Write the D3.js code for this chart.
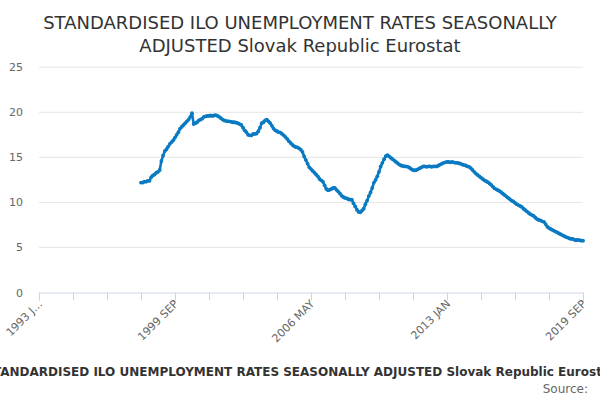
<!DOCTYPE html>
<html><head><meta charset="utf-8">
<script src="https://cdn.jsdelivr.net/npm/d3@7"></script>
<style>body{margin:0;background:#fff}svg{display:block;font-family:"DejaVu Sans",sans-serif}</style>
</head><body><svg id="c" width="600" height="400"></svg>
<script>
// categories: monthly from 1993 JAN to 2019 SEP
const years = d3.range(1993, 2020);
const monthNames = ["JAN","FEB","MAR","APR","MAY","JUN","JUL","AUG","SEP","OCT","NOV","DEC"];
const categories = [];
years.forEach(y => monthNames.forEach((m, i) => { if (!(y === 2019 && i > 8)) categories.push(y + " " + m); }));
const firstDataCategory = "1998 JAN";
// monthly values 1998 JAN .. 2019 SEP
const values = [
 12.2,12.2,12.3,12.3,12.4,12.4,12.8,13.0,13.1,13.3,13.4,13.6,
 14.6,15.2,15.7,15.9,16.2,16.5,16.7,16.9,17.2,17.5,17.8,18.2,
 18.4,18.6,18.8,19.0,19.2,19.5,19.9,18.7,18.8,18.9,19.1,19.2,
 19.3,19.5,19.55,19.6,19.6,19.65,19.6,19.65,19.7,19.6,19.5,19.35,
 19.2,19.1,19.05,19.0,19.0,18.95,18.9,18.9,18.85,18.8,18.7,18.6,
 18.3,18.0,17.8,17.5,17.45,17.45,17.6,17.6,17.65,17.9,18.3,18.8,
 18.9,19.1,19.2,19.0,18.8,18.5,18.2,18.0,17.9,17.8,17.75,17.6,
 17.45,17.25,17.05,16.8,16.6,16.4,16.25,16.15,16.1,16.0,15.85,15.6,
 15.1,14.7,14.3,13.9,13.7,13.5,13.3,13.1,12.9,12.6,12.45,12.3,
 11.9,11.5,11.35,11.4,11.5,11.6,11.6,11.4,11.2,11.0,10.75,10.6,
 10.5,10.45,10.35,10.3,10.3,9.9,9.55,9.2,8.95,8.9,9.1,9.3,
 9.8,10.2,10.7,11.1,11.6,12.2,12.5,12.9,13.4,14.0,14.4,14.8,
 15.15,15.25,15.1,14.95,14.8,14.65,14.5,14.35,14.2,14.1,14.05,14.0,
 14.0,13.95,13.85,13.7,13.6,13.55,13.6,13.7,13.8,13.9,14.0,14.0,
 13.95,14.0,14.0,13.95,14.0,14.0,14.0,14.1,14.2,14.3,14.4,14.45,
 14.5,14.5,14.45,14.5,14.45,14.4,14.4,14.35,14.3,14.2,14.15,14.1,
 14.0,13.95,13.8,13.6,13.4,13.2,13.05,12.9,12.75,12.6,12.45,12.35,
 12.25,12.1,11.95,11.75,11.55,11.45,11.35,11.25,11.1,10.95,10.8,10.65,
 10.5,10.35,10.2,10.1,9.95,9.8,9.7,9.6,9.5,9.3,9.15,9.0,
 8.85,8.7,8.6,8.5,8.3,8.15,8.05,8.0,7.9,7.85,7.6,7.3,
 7.15,7.05,6.95,6.85,6.75,6.65,6.55,6.45,6.35,6.25,6.15,6.1,
 6.0,5.95,5.95,5.85,5.8,5.85,5.8,5.75,5.75
];
const yTicks = [0,5,10,15,20,25];
const xTickLabels = ["1993 JAN","1999 SEP","2006 MAY","2013 JAN","2019 SEP"];
const titleLines = ["STANDARDISED ILO UNEMPLOYMENT RATES SEASONALLY","ADJUSTED Slovak Republic Eurostat"];
const footerText = "STANDARDISED ILO UNEMPLOYMENT RATES SEASONALLY ADJUSTED Slovak Republic Eurostat";
const sourceText = "Source:";

const svg = d3.select("#c");
const M = {l:39, r:583, t:67.3, b:292.5};
const startIdx = categories.indexOf(firstDataCategory);
const data = values.map((v,i) => ({i: startIdx + i, v}));

const x = d3.scaleLinear().domain([0, categories.length - 1]).range([M.l, M.r]);
const y = d3.scaleLinear().domain([0, 25]).range([M.b, M.t]);

// title
svg.append("g").selectAll("text").data(titleLines).join("text")
  .attr("x", 300).attr("y", (d,i) => 28.5 + i*23.5)
  .attr("text-anchor","middle").attr("fill","#333").style("font-size","18px").text(d => d);

// grid + y labels
svg.append("g").selectAll("line").data(yTicks.filter(d => d>0)).join("line")
  .attr("x1", M.l).attr("x2", M.r).attr("y1", d => y(d)).attr("y2", d => y(d))
  .attr("stroke","#e6e6e6").attr("stroke-width",1);
svg.append("g").selectAll("text").data(yTicks).join("text")
  .attr("x", 23).attr("y", d => y(d) + 4).attr("text-anchor","end")
  .attr("fill","#666").style("font-size","11px").text(d => d);

// x axis
const xAxis = d3.axisBottom(x)
  .tickValues(d3.range(0, categories.length, 20))
  .tickSize(8).tickFormat(() => "");
const gx = svg.append("g").attr("transform", `translate(0,${M.b})`).call(xAxis);
gx.select(".domain").attr("stroke","#ccd6eb");
gx.selectAll(".tick line").attr("stroke","#ccd6eb");

svg.append("g").selectAll("text").data(xTickLabels).join("text")
  .attr("transform", d => `translate(${x(categories.indexOf(d)) + 4},${M.b + 12}) rotate(-45)`)
  .attr("text-anchor","end").attr("fill","#666").style("font-size","11px")
  .text((d,i) => i === 0 ? "1993 J…" : d);

// line
const line = d3.line().x(d => x(d.i)).y(d => y(d.v));
svg.append("path").datum(data).attr("d", line).attr("fill","none")
  .attr("stroke","#0a7ac2").attr("stroke-width",2.6).attr("stroke-linejoin","round");
svg.append("g").selectAll("circle").data(data).join("circle")
  .attr("cx", d => x(d.i)).attr("cy", d => y(d.v)).attr("r", 1.9).attr("fill","#0a7ac2");

// footer
svg.append("text").attr("x", 300).attr("y", 376).attr("text-anchor","middle")
  .attr("fill","#333").style("font-size","12px").style("font-weight","bold").text(footerText);
svg.append("text").attr("x", 588).attr("y", 393).attr("text-anchor","end")
  .attr("fill","#666").style("font-size","12px").text(sourceText);
</script></body></html>
